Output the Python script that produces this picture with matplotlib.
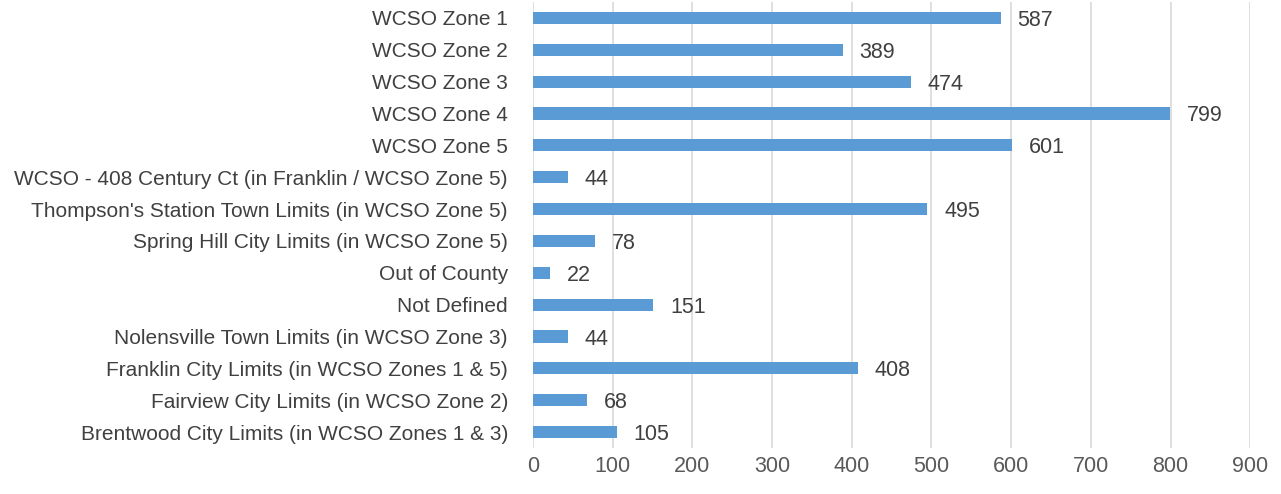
import matplotlib
matplotlib.use("Agg")
import matplotlib.pyplot as plt

# Calls by area, top row first
areas = [
    "WCSO Zone 1",
    "WCSO Zone 2",
    "WCSO Zone 3",
    "WCSO Zone 4",
    "WCSO Zone 5",
    "WCSO - 408 Century Ct (in Franklin / WCSO Zone 5)",
    "Thompson's Station Town Limits (in WCSO Zone 5)",
    "Spring Hill City Limits (in WCSO Zone 5)",
    "Out of County",
    "Not Defined",
    "Nolensville Town Limits (in WCSO Zone 3)",
    "Franklin City Limits (in WCSO Zones 1 & 5)",
    "Fairview City Limits (in WCSO Zone 2)",
    "Brentwood City Limits (in WCSO Zones 1 & 3)",
]
counts = [587, 389, 474, 799, 601, 44, 495, 78, 22, 151, 44, 408, 68, 105]
x_ticks = [0, 100, 200, 300, 400, 500, 600, 700, 800, 900]

plt.rcParams["font.family"] = ["Liberation Sans", "DejaVu Sans"]

fig = plt.figure(figsize=(12.81, 4.94), dpi=100)
ax = fig.add_axes([0.416, 0.093, 0.56, 0.903])

ypos = list(range(len(areas)))
ax.barh(ypos, counts, height=0.38, color="#5b9bd5", zorder=3)

for y, v in zip(ypos, counts):
    ax.annotate(str(v), (v, y), xytext=(12, 0), textcoords="offset points",
                va="center_baseline", ha="left", fontsize=15.5, color="#404040")

ax.set_yticks(ypos)
ax.set_yticklabels(areas, fontsize=15, color="#404040", va="center_baseline")
ax.set_ylim(len(areas) - 0.5, -0.5)
ax.set_xlim(0, 900)
ax.set_xticks(x_ticks)
ax.set_xticklabels([str(t) for t in x_ticks], fontsize=15.5, color="#595959")
ax.tick_params(length=0)
ax.tick_params(axis="x", pad=6)
ax.tick_params(axis="y", pad=18)
ax.grid(axis="x", color="#d9d9d9", linewidth=1.2, zorder=0)
for s in ax.spines.values():
    s.set_visible(False)

fig.savefig("out.png", dpi=100)
